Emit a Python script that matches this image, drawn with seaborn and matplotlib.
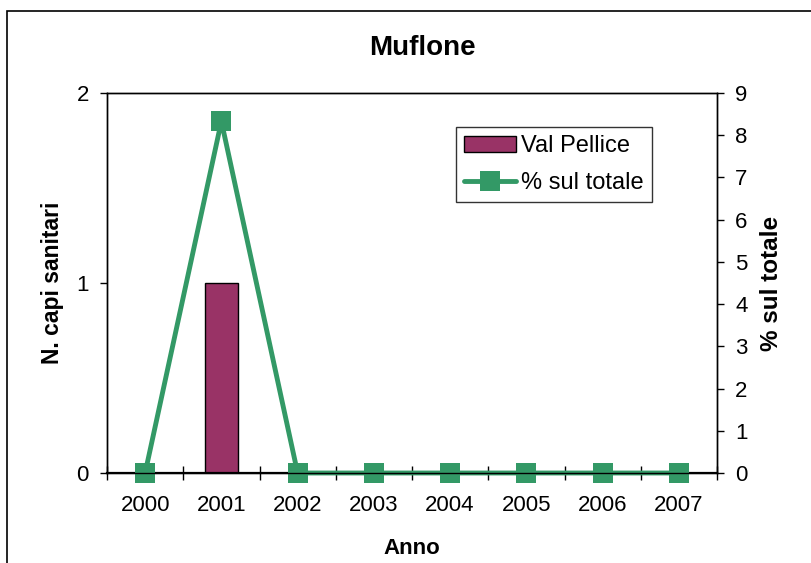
import numpy as np
import pandas as pd
import seaborn as sns
import matplotlib.pyplot as plt
from matplotlib.patches import Rectangle

# Data
years = ['2000', '2001', '2002', '2003', '2004', '2005', '2006', '2007']
val_pellice = [0, 1, 0, 0, 0, 0, 0, 0]
perc_totale = [0, 8.33, 0, 0, 0, 0, 0, 0]

df = pd.DataFrame({'anno': years, 'capi': val_pellice, 'perc': perc_totale})
df['pos'] = np.arange(len(years))

sns.set_style('white')
plt.rcParams['font.family'] = ['Liberation Sans', 'DejaVu Sans']
plt.rcParams['text.color'] = 'black'
plt.rcParams['axes.labelcolor'] = 'black'
plt.rcParams['xtick.color'] = 'black'
plt.rcParams['ytick.color'] = 'black'

fig = plt.figure(figsize=(8.12, 5.63), dpi=100)
ax = fig.add_axes([107 / 812, 1 - 473 / 563, 610 / 812, 380 / 563])

# figure border
fig.patches.append(Rectangle((7 / 812, -0.1), 1.2, 1.1 - 11 / 563, transform=fig.transFigure,
                             fill=False, edgecolor='black', linewidth=1.2))

sns.barplot(data=df, x='anno', y='capi', order=years, color='#993366', width=0.43,
            edgecolor='black', linewidth=1, saturation=1, ax=ax, label='Val Pellice')
ax.set_xlim(-0.5, len(years) - 0.5)
ax.set_ylim(0, 2)
ax.set_yticks([0, 1, 2])
ax.set_xticks(df['pos'])
ax.set_xticklabels(years)
ax.set_xticks(np.arange(len(years) + 1) - 0.5, minor=True)
ax.tick_params(axis='x', which='major', length=0, pad=16, labelsize=16)
ax.tick_params(axis='x', which='minor', length=10, width=1, direction='inout', bottom=True)
ax.tick_params(axis='y', length=5, width=1, direction='out', left=True, labelsize=16, pad=8)
ax.set_xlabel('Anno', fontsize=16, fontweight='bold', labelpad=16)
ax.set_ylabel('N. capi sanitari', fontsize=16.5, fontweight='bold', labelpad=9)
for s in ax.spines.values():
    s.set_color('black')
    s.set_linewidth(1)
ax.spines['bottom'].set_linewidth(1.6)

ax2 = ax.twinx()
sns.lineplot(data=df, x='pos', y='perc', color='#339966', linewidth=3.5, marker='s',
             markersize=14.5, markeredgewidth=0, ax=ax2, label='% sul totale', clip_on=False)
ax2.set_ylim(0, 9)
ax2.set_yticks(range(0, 10))
ax2.set_xlim(-0.5, len(years) - 0.5)
ax2.tick_params(axis='y', length=5, width=1, direction='out', right=True, labelsize=16, pad=8)
ax2.set_ylabel('% sul totale', fontsize=17.5, fontweight='bold', labelpad=9)
for s in ax2.spines.values():
    s.set_color('black')
    s.set_linewidth(1)
ax2.set_xlabel('')

h1, l1 = ax.get_legend_handles_labels()
h2, l2 = ax2.get_legend_handles_labels()
if ax.get_legend():
    ax.get_legend().remove()
leg = ax2.legend(h1 + h2, l1 + l2, loc='upper left', bbox_to_anchor=(0.572, 0.9105),
                 fontsize=17, frameon=True, fancybox=False, edgecolor='black',
                 borderpad=0.35, handlelength=2.2, labelspacing=0.62, handletextpad=0.2,
                 borderaxespad=0)
leg.get_frame().set_linewidth(1)

fig.text(422 / 812, 1 - 48 / 563, 'Muflone', ha='center', va='center',
         fontsize=20, fontweight='bold')

fig.savefig('out.png', dpi=100)
